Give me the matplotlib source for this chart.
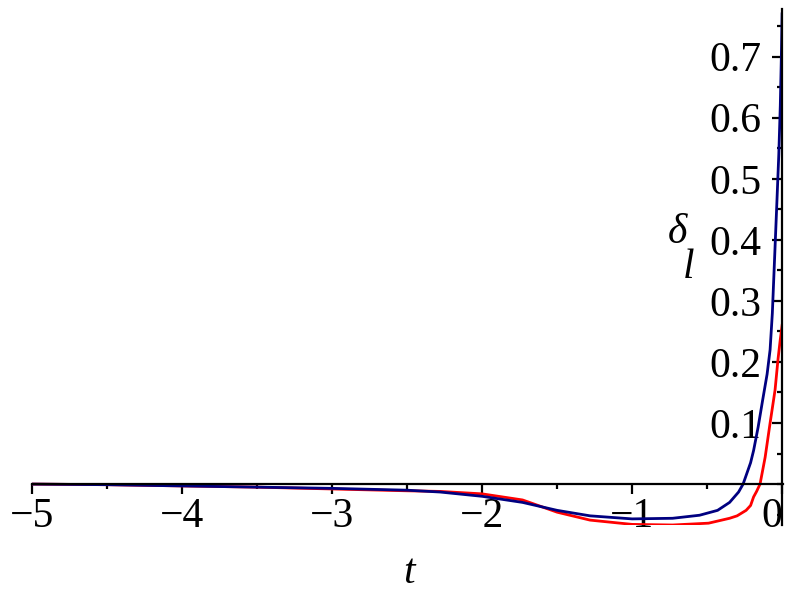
import matplotlib.pyplot as plt
from matplotlib.ticker import MultipleLocator

# values
t_blue = [-5, -4.5, -4, -3.5, -3, -2.5, -2.28, -2, -1.73, -1.5, -1.28, -1, -0.73,
          -0.55, -0.43, -0.35, -0.29, -0.26, -0.21, -0.19, -0.16, -0.13, -0.1,
          -0.08, -0.065, -0.05, -0.035, -0.022, -0.012, -0.005, 0]
d_blue = [0, -0.001, -0.003, -0.005, -0.007, -0.01, -0.013, -0.02, -0.03, -0.043,
          -0.052, -0.057, -0.056, -0.051, -0.043, -0.03, -0.013, 0, 0.035, 0.055,
          0.093, 0.137, 0.18, 0.22, 0.28, 0.37, 0.46, 0.54, 0.62, 0.7, 0.77]

t_red = [-5, -4.5, -4, -3.5, -3, -2.5, -2.28, -2, -1.73, -1.5, -1.28, -1, -0.73,
         -0.49, -0.35, -0.3, -0.24, -0.21, -0.19, -0.17, -0.147, -0.113, -0.08,
         -0.047, -0.027, -0.013, 0]
d_red = [0, -0.001, -0.003, -0.005, -0.008, -0.011, -0.012, -0.016, -0.026, -0.046,
         -0.059, -0.066, -0.067, -0.064, -0.056, -0.052, -0.043, -0.035, -0.021,
         -0.012, 0, 0.044, 0.1, 0.154, 0.205, 0.235, 0.26]

x_major = [-5, -4, -3, -2, -1, 0]
x_labels = ['\u22125', '\u22124', '\u22123', '\u22122', '\u22121', '0']
y_major = [0.1, 0.2, 0.3, 0.4, 0.5, 0.6, 0.7]
y_labels = ['0.1', '0.2', '0.3', '0.4', '0.5', '0.6', '0.7']

plt.rcParams['font.family'] = ['Liberation Serif', 'DejaVu Serif']

fig = plt.figure(figsize=(8, 6), dpi=100)
ax = fig.add_axes([0.04, 0.125, 0.93875, 0.86])

ax.plot(t_red, d_red, color='#ff0000', lw=2.0, solid_joinstyle='round')
ax.plot(t_blue, d_blue, color='#000080', lw=2.0, solid_joinstyle='round')

ax.set_xlim(-5, 0.006)
ax.set_ylim(-0.067, 0.778)

ax.spines['left'].set_position(('data', 0))
ax.spines['bottom'].set_position(('data', 0))
ax.spines['right'].set_visible(False)
ax.spines['top'].set_visible(False)
for s in ('left', 'bottom'):
    ax.spines[s].set_linewidth(1.6)
    ax.spines[s].set_zorder(3)

ax.set_xticks(x_major)
ax.set_xticklabels(x_labels)
ax.set_yticks(y_major)
ax.set_yticklabels(y_labels)
ax.xaxis.set_minor_locator(MultipleLocator(0.5))
ax.yaxis.set_minor_locator(MultipleLocator(0.05))
ax.tick_params(which='major', direction='out', length=7, width=1.6, labelsize=30)
ax.tick_params(which='minor', direction='out', length=3.5, width=1.6)
ax.tick_params(axis='x', which='major', pad=3)
ax.tick_params(axis='y', which='major', pad=8)
ax.get_xticklabels()[-1].set_horizontalalignment('right')

fig.text(677 / 800, 1 - 233 / 600, '\u03b4', fontsize=30, style='italic',
         ha='center', va='center')
fig.text(689 / 800, 1 - 268 / 600, 'l', fontsize=30, style='italic',
         ha='center', va='center')
fig.text(409 / 800, 1 - 573 / 600, 't', fontsize=30, style='italic',
         ha='center', va='center')

fig.savefig('out.png', dpi=100)
